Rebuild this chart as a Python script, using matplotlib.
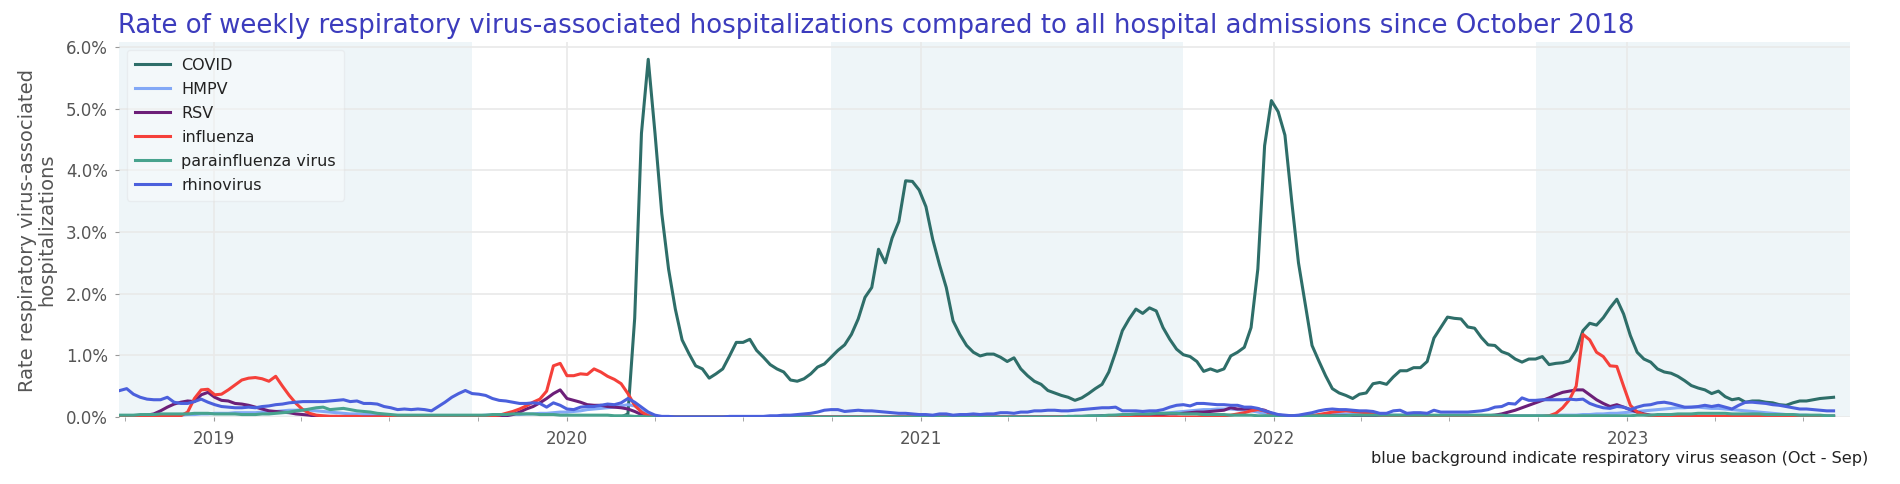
import matplotlib
matplotlib.use("Agg")
import matplotlib.pyplot as plt
import matplotlib.dates as mdates
import pandas as pd

# weekly rates in % of all hospital admissions, one value per week from 2018-09-26
weeks = pd.date_range("2018-09-26", periods=254, freq="7D")
covid_first_week = "2020-02-19"

covid = [
    0.00, 0.00, 0.05, 1.60, 4.60, 5.80, 4.60, 3.30, 2.40, 1.75,
    1.25, 1.03, 0.83, 0.78, 0.63, 0.70, 0.78, 0.99, 1.21, 1.21,
    1.26, 1.08, 0.97, 0.85, 0.78, 0.73, 0.60, 0.58, 0.62, 0.70,
    0.81, 0.86, 0.97, 1.08, 1.17, 1.34, 1.59, 1.94, 2.10, 2.72,
    2.50, 2.90, 3.17, 3.83, 3.82, 3.68, 3.41, 2.88, 2.47, 2.10,
    1.56, 1.34, 1.16, 1.05, 0.99, 1.02, 1.02, 0.97, 0.90, 0.96,
    0.78, 0.67, 0.58, 0.53, 0.43, 0.39, 0.35, 0.32, 0.27, 0.31,
    0.38, 0.46, 0.53, 0.73, 1.05, 1.40, 1.59, 1.75, 1.68, 1.77,
    1.72, 1.45, 1.26, 1.10, 1.01, 0.98, 0.90, 0.74, 0.78, 0.74,
    0.78, 0.99, 1.05, 1.13, 1.45, 2.40, 4.40, 5.13, 4.95, 4.57,
    3.50, 2.50, 1.83, 1.16, 0.91, 0.67, 0.46, 0.39, 0.35, 0.30,
    0.37, 0.39, 0.54, 0.56, 0.53, 0.65, 0.75, 0.75, 0.80, 0.80,
    0.90, 1.28, 1.45, 1.62, 1.60, 1.59, 1.46, 1.44, 1.29, 1.17,
    1.16, 1.06, 1.02, 0.94, 0.89, 0.94, 0.94, 0.98, 0.85, 0.87,
    0.88, 0.91, 1.08, 1.40, 1.52, 1.49, 1.61, 1.77, 1.91, 1.67,
    1.32, 1.05, 0.94, 0.89, 0.78, 0.73, 0.71, 0.66, 0.59, 0.51,
    0.47, 0.44, 0.38, 0.42, 0.33, 0.28, 0.30, 0.24, 0.26, 0.26,
    0.24, 0.23, 0.20, 0.19, 0.23, 0.26, 0.26, 0.28, 0.30, 0.31, 0.32,
]

hmpv = [
    0.01, 0.01, 0.01, 0.01, 0.01, 0.02, 0.02, 0.02, 0.03, 0.03,
    0.04, 0.04, 0.05, 0.05, 0.06, 0.06, 0.06, 0.07, 0.07, 0.07,
    0.07, 0.08, 0.08, 0.09, 0.10, 0.11, 0.11, 0.12, 0.11, 0.10,
    0.09, 0.08, 0.07, 0.06, 0.05, 0.05, 0.04, 0.04, 0.03, 0.03,
    0.02, 0.02, 0.02, 0.02, 0.02, 0.02, 0.02, 0.02, 0.02, 0.02,
    0.02, 0.02, 0.02, 0.02, 0.03, 0.03, 0.03, 0.03, 0.04, 0.04,
    0.05, 0.05, 0.06, 0.06, 0.07, 0.08, 0.08, 0.09, 0.10, 0.12,
    0.13, 0.14, 0.15, 0.16, 0.18, 0.20, 0.18, 0.10, 0.03, 0.01,
    0.00, 0.00, 0.00, 0.00, 0.00, 0.00, 0.00, 0.00, 0.00, 0.00,
    0.00, 0.00, 0.00, 0.00, 0.00, 0.00, 0.00, 0.00, 0.00, 0.00,
    0.00, 0.00, 0.00, 0.00, 0.00, 0.00, 0.00, 0.00, 0.00, 0.00,
    0.00, 0.00, 0.00, 0.00, 0.00, 0.00, 0.00, 0.00, 0.00, 0.00,
    0.00, 0.00, 0.00, 0.00, 0.00, 0.00, 0.00, 0.00, 0.00, 0.00,
    0.00, 0.00, 0.00, 0.00, 0.00, 0.00, 0.00, 0.00, 0.00, 0.00,
    0.01, 0.01, 0.01, 0.01, 0.02, 0.02, 0.02, 0.03, 0.03, 0.03,
    0.04, 0.04, 0.05, 0.05, 0.06, 0.07, 0.08, 0.09, 0.10, 0.11,
    0.12, 0.12, 0.13, 0.13, 0.13, 0.12, 0.11, 0.10, 0.08, 0.06,
    0.04, 0.03, 0.02, 0.02, 0.02, 0.02, 0.03, 0.03, 0.04, 0.04,
    0.05, 0.05, 0.05, 0.05, 0.04, 0.04, 0.04, 0.03, 0.03, 0.03,
    0.03, 0.03, 0.03, 0.03, 0.02, 0.02, 0.02, 0.02, 0.02, 0.02,
    0.02, 0.02, 0.02, 0.02, 0.02, 0.02, 0.02, 0.02, 0.02, 0.02,
    0.02, 0.02, 0.03, 0.03, 0.03, 0.03, 0.04, 0.04, 0.05, 0.05,
    0.06, 0.06, 0.07, 0.08, 0.09, 0.10, 0.11, 0.12, 0.13, 0.14,
    0.15, 0.15, 0.16, 0.16, 0.15, 0.14, 0.14, 0.13, 0.12, 0.11,
    0.10, 0.09, 0.08, 0.07, 0.06, 0.05, 0.04, 0.04, 0.03, 0.03,
    0.02, 0.02, 0.02, 0.02,
]

rsv = [
    0.00, 0.00, 0.01, 0.02, 0.03, 0.05, 0.10, 0.16, 0.21, 0.24,
    0.26, 0.25, 0.36, 0.40, 0.32, 0.27, 0.26, 0.22, 0.21, 0.19,
    0.16, 0.13, 0.10, 0.09, 0.08, 0.07, 0.05, 0.04, 0.03, 0.01,
    0.01, 0.01, 0.01, 0.00, 0.00, 0.00, 0.00, 0.00, 0.00, 0.00,
    0.00, 0.00, 0.00, 0.00, 0.00, 0.00, 0.00, 0.00, 0.00, 0.00,
    0.00, 0.00, 0.00, 0.00, 0.00, 0.01, 0.01, 0.02, 0.04, 0.08,
    0.13, 0.17, 0.23, 0.30, 0.38, 0.44, 0.30, 0.27, 0.24, 0.20,
    0.19, 0.19, 0.17, 0.16, 0.15, 0.13, 0.09, 0.04, 0.01, 0.00,
    0.00, 0.00, 0.00, 0.00, 0.00, 0.00, 0.00, 0.00, 0.00, 0.00,
    0.00, 0.00, 0.00, 0.00, 0.00, 0.00, 0.00, 0.00, 0.00, 0.00,
    0.00, 0.00, 0.00, 0.00, 0.00, 0.00, 0.00, 0.00, 0.00, 0.00,
    0.00, 0.00, 0.00, 0.00, 0.00, 0.00, 0.00, 0.00, 0.00, 0.00,
    0.00, 0.00, 0.00, 0.00, 0.00, 0.00, 0.00, 0.00, 0.00, 0.00,
    0.00, 0.00, 0.00, 0.00, 0.00, 0.00, 0.00, 0.00, 0.00, 0.00,
    0.00, 0.01, 0.01, 0.01, 0.01, 0.02, 0.02, 0.02, 0.02, 0.03,
    0.03, 0.03, 0.03, 0.04, 0.04, 0.05, 0.05, 0.06, 0.07, 0.08,
    0.08, 0.09, 0.10, 0.11, 0.15, 0.13, 0.13, 0.14, 0.13, 0.11,
    0.06, 0.03, 0.02, 0.02, 0.01, 0.01, 0.01, 0.01, 0.02, 0.02,
    0.02, 0.02, 0.02, 0.02, 0.02, 0.02, 0.02, 0.02, 0.02, 0.02,
    0.02, 0.02, 0.01, 0.01, 0.01, 0.01, 0.01, 0.01, 0.01, 0.01,
    0.01, 0.01, 0.02, 0.03, 0.05, 0.08, 0.11, 0.15, 0.19, 0.23,
    0.27, 0.31, 0.36, 0.40, 0.42, 0.44, 0.44, 0.36, 0.28, 0.22,
    0.17, 0.20, 0.16, 0.12, 0.08, 0.05, 0.03, 0.02, 0.01, 0.01,
    0.01, 0.01, 0.01, 0.01, 0.01, 0.01, 0.01, 0.01, 0.01, 0.01,
    0.01, 0.01, 0.01, 0.01, 0.01, 0.01, 0.01, 0.01, 0.01, 0.01,
    0.01, 0.01, 0.01, 0.01,
]

influenza = [
    0.00, 0.00, 0.00, 0.00, 0.00, 0.01, 0.01, 0.01, 0.01, 0.02,
    0.08, 0.30, 0.44, 0.45, 0.36, 0.37, 0.44, 0.52, 0.60, 0.63,
    0.64, 0.62, 0.58, 0.66, 0.50, 0.35, 0.22, 0.12, 0.06, 0.03,
    0.02, 0.01, 0.01, 0.01, 0.01, 0.01, 0.00, 0.00, 0.00, 0.00,
    0.00, 0.00, 0.00, 0.00, 0.00, 0.00, 0.00, 0.00, 0.01, 0.01,
    0.01, 0.01, 0.01, 0.01, 0.01, 0.02, 0.03, 0.06, 0.09, 0.13,
    0.18, 0.24, 0.29, 0.42, 0.83, 0.87, 0.67, 0.67, 0.70, 0.69,
    0.78, 0.73, 0.66, 0.61, 0.54, 0.38, 0.19, 0.08, 0.02, 0.01,
    0.00, 0.00, 0.00, 0.00, 0.00, 0.00, 0.00, 0.00, 0.00, 0.00,
    0.00, 0.00, 0.00, 0.00, 0.00, 0.00, 0.00, 0.00, 0.00, 0.00,
    0.00, 0.00, 0.00, 0.00, 0.00, 0.00, 0.00, 0.00, 0.00, 0.00,
    0.00, 0.00, 0.00, 0.00, 0.00, 0.00, 0.00, 0.00, 0.00, 0.00,
    0.00, 0.00, 0.00, 0.00, 0.00, 0.00, 0.00, 0.00, 0.00, 0.00,
    0.00, 0.00, 0.00, 0.00, 0.00, 0.00, 0.00, 0.00, 0.00, 0.00,
    0.00, 0.00, 0.00, 0.00, 0.00, 0.00, 0.00, 0.00, 0.00, 0.00,
    0.00, 0.00, 0.00, 0.00, 0.00, 0.00, 0.00, 0.00, 0.00, 0.00,
    0.01, 0.01, 0.01, 0.02, 0.03, 0.05, 0.07, 0.10, 0.12, 0.10,
    0.05, 0.02, 0.01, 0.01, 0.01, 0.01, 0.02, 0.04, 0.06, 0.08,
    0.09, 0.10, 0.09, 0.08, 0.07, 0.05, 0.03, 0.02, 0.01, 0.01,
    0.01, 0.01, 0.01, 0.01, 0.01, 0.01, 0.01, 0.01, 0.01, 0.01,
    0.01, 0.01, 0.01, 0.01, 0.01, 0.01, 0.01, 0.01, 0.01, 0.01,
    0.01, 0.02, 0.06, 0.15, 0.28, 0.50, 1.34, 1.25, 1.05, 0.98,
    0.83, 0.82, 0.50, 0.19, 0.08, 0.04, 0.02, 0.01, 0.01, 0.01,
    0.01, 0.01, 0.01, 0.01, 0.01, 0.01, 0.01, 0.01, 0.01, 0.01,
    0.01, 0.01, 0.01, 0.01, 0.01, 0.01, 0.01, 0.01, 0.01, 0.01,
    0.01, 0.01, 0.01, 0.01,
]

parainfluenza = [
    0.03, 0.03, 0.03, 0.04, 0.04, 0.04, 0.05, 0.05, 0.05, 0.05,
    0.05, 0.06, 0.06, 0.06, 0.05, 0.05, 0.05, 0.05, 0.04, 0.04,
    0.04, 0.05, 0.05, 0.06, 0.07, 0.08, 0.10, 0.11, 0.13, 0.15,
    0.16, 0.12, 0.13, 0.14, 0.12, 0.10, 0.09, 0.08, 0.06, 0.05,
    0.04, 0.03, 0.03, 0.03, 0.03, 0.03, 0.03, 0.03, 0.03, 0.03,
    0.03, 0.03, 0.03, 0.03, 0.03, 0.04, 0.04, 0.04, 0.05, 0.05,
    0.05, 0.05, 0.04, 0.04, 0.04, 0.03, 0.03, 0.03, 0.03, 0.03,
    0.03, 0.03, 0.03, 0.02, 0.02, 0.02, 0.01, 0.01, 0.00, 0.00,
    0.00, 0.00, 0.00, 0.00, 0.00, 0.00, 0.00, 0.00, 0.00, 0.00,
    0.00, 0.00, 0.00, 0.00, 0.00, 0.00, 0.00, 0.00, 0.00, 0.00,
    0.00, 0.00, 0.00, 0.00, 0.00, 0.00, 0.00, 0.00, 0.00, 0.00,
    0.00, 0.00, 0.00, 0.00, 0.00, 0.00, 0.00, 0.00, 0.00, 0.00,
    0.00, 0.00, 0.00, 0.00, 0.00, 0.00, 0.00, 0.00, 0.00, 0.00,
    0.00, 0.00, 0.00, 0.00, 0.00, 0.00, 0.00, 0.00, 0.00, 0.00,
    0.01, 0.01, 0.01, 0.02, 0.02, 0.02, 0.03, 0.03, 0.04, 0.04,
    0.05, 0.05, 0.05, 0.06, 0.06, 0.06, 0.06, 0.05, 0.05, 0.05,
    0.04, 0.04, 0.04, 0.04, 0.03, 0.03, 0.03, 0.03, 0.02, 0.02,
    0.02, 0.02, 0.02, 0.02, 0.02, 0.02, 0.02, 0.02, 0.02, 0.02,
    0.02, 0.02, 0.03, 0.03, 0.03, 0.03, 0.03, 0.03, 0.03, 0.03,
    0.03, 0.03, 0.03, 0.03, 0.03, 0.03, 0.03, 0.03, 0.03, 0.03,
    0.03, 0.03, 0.03, 0.03, 0.03, 0.02, 0.02, 0.02, 0.02, 0.02,
    0.02, 0.02, 0.02, 0.02, 0.02, 0.02, 0.02, 0.02, 0.02, 0.02,
    0.02, 0.02, 0.02, 0.02, 0.03, 0.03, 0.03, 0.04, 0.04, 0.04,
    0.05, 0.05, 0.05, 0.06, 0.06, 0.06, 0.06, 0.06, 0.05, 0.05,
    0.05, 0.05, 0.05, 0.04, 0.04, 0.04, 0.04, 0.04, 0.03, 0.03,
    0.03, 0.03, 0.02, 0.02,
]

rhinovirus = [
    0.43, 0.46, 0.37, 0.32, 0.29, 0.28, 0.28, 0.32, 0.24, 0.22,
    0.22, 0.25, 0.29, 0.24, 0.20, 0.17, 0.16, 0.15, 0.15, 0.16,
    0.15, 0.17, 0.18, 0.20, 0.21, 0.23, 0.24, 0.25, 0.25, 0.25,
    0.25, 0.26, 0.27, 0.28, 0.25, 0.26, 0.22, 0.22, 0.21, 0.17,
    0.15, 0.12, 0.13, 0.12, 0.13, 0.12, 0.10, 0.17, 0.24, 0.32,
    0.38, 0.43, 0.38, 0.37, 0.35, 0.30, 0.27, 0.26, 0.24, 0.22,
    0.22, 0.23, 0.22, 0.16, 0.23, 0.19, 0.13, 0.12, 0.16, 0.17,
    0.17, 0.19, 0.21, 0.20, 0.23, 0.30, 0.24, 0.16, 0.08, 0.03,
    0.01, 0.01, 0.00, 0.00, 0.00, 0.00, 0.00, 0.00, 0.00, 0.00,
    0.01, 0.01, 0.01, 0.01, 0.01, 0.01, 0.02, 0.02, 0.03, 0.03,
    0.04, 0.05, 0.06, 0.08, 0.11, 0.12, 0.12, 0.09, 0.10, 0.11,
    0.10, 0.10, 0.09, 0.08, 0.07, 0.06, 0.06, 0.05, 0.04, 0.04,
    0.03, 0.05, 0.05, 0.03, 0.04, 0.04, 0.05, 0.04, 0.05, 0.05,
    0.07, 0.07, 0.06, 0.08, 0.08, 0.10, 0.10, 0.11, 0.11, 0.10,
    0.10, 0.11, 0.12, 0.13, 0.14, 0.15, 0.15, 0.16, 0.10, 0.10,
    0.10, 0.09, 0.10, 0.10, 0.12, 0.16, 0.19, 0.20, 0.18, 0.22,
    0.22, 0.21, 0.20, 0.20, 0.19, 0.19, 0.16, 0.16, 0.14, 0.10,
    0.07, 0.04, 0.03, 0.02, 0.03, 0.05, 0.07, 0.10, 0.12, 0.13,
    0.12, 0.12, 0.11, 0.10, 0.10, 0.09, 0.06, 0.06, 0.10, 0.11,
    0.06, 0.07, 0.07, 0.06, 0.11, 0.08, 0.08, 0.08, 0.08, 0.08,
    0.09, 0.10, 0.12, 0.16, 0.17, 0.22, 0.21, 0.31, 0.27, 0.27,
    0.28, 0.28, 0.28, 0.28, 0.29, 0.28, 0.29, 0.22, 0.18, 0.15,
    0.14, 0.17, 0.16, 0.12, 0.16, 0.19, 0.20, 0.23, 0.24, 0.22,
    0.19, 0.16, 0.16, 0.17, 0.19, 0.17, 0.19, 0.16, 0.13, 0.19,
    0.24, 0.24, 0.23, 0.22, 0.20, 0.19, 0.17, 0.15, 0.13, 0.13,
    0.12, 0.11, 0.10, 0.10,
]

series = [
    ("COVID", covid, "#2e6e69"),
    ("HMPV", hmpv, "#82a8f6"),
    ("RSV", rsv, "#6c1f78"),
    ("influenza", influenza, "#f5403a"),
    ("parainfluenza virus", parainfluenza, "#47a38e"),
    ("rhinovirus", rhinovirus, "#4b60dc"),
]

# respiratory virus seasons (shaded)
season_starts = ["2018-09-25", "2020-09-30", "2022-09-28"]
season_ends = ["2019-09-25", "2021-09-29", "2023-09-27"]

fig = plt.figure(figsize=(19, 4.84), dpi=100)
ax = fig.add_axes([0.0626, 0.1384, 0.9111, 0.7748])

for s, e in zip(season_starts, season_ends):
    ax.axvspan(pd.Timestamp(s), pd.Timestamp(e), color="#eef5f8", lw=0, zorder=0)

covid_weeks = weeks[weeks >= pd.Timestamp(covid_first_week)]
for name, vals, col in series:
    x = covid_weeks if name == "COVID" else weeks
    ax.plot(x, vals, color=col, lw=2.2, label=name, zorder=3)

ax.set_xlim(pd.Timestamp("2018-09-25"), pd.Timestamp("2023-08-19"))
ax.set_ylim(0, 6.08)
ax.set_yticks([0, 1, 2, 3, 4, 5, 6])
ax.yaxis.set_major_formatter(plt.FuncFormatter(lambda v, p: f"{v:.1f}%"))

ax.xaxis.set_major_locator(mdates.YearLocator())
ax.xaxis.set_major_formatter(mdates.DateFormatter("%Y"))
ax.xaxis.set_minor_locator(mdates.MonthLocator(bymonth=[4, 7, 10]))

ax.set_axisbelow(True)
ax.grid(axis="y", color="#e9e9e9", lw=1.2)
ax.grid(axis="x", which="major", color="#e9e9e9", lw=1.2)
for sp in ax.spines.values():
    sp.set_visible(False)

ax.tick_params(axis="x", which="both", length=3, color="#999999",
               labelsize=12, labelcolor="#555555", pad=6)
ax.tick_params(axis="y", length=3, color="#999999",
               labelsize=12, labelcolor="#555555", pad=5)

leg = ax.legend(loc="upper left", fontsize=11.5, frameon=True, framealpha=0.3,
                edgecolor="#d8d8d8", handlelength=2.2, handletextpad=0.7,
                labelspacing=0.56, borderpad=0.5)
for t in leg.get_texts():
    t.set_color("#222222")

fig.text(118 / 1900, 1 - 33 / 484,
         "Rate of weekly respiratory virus-associated hospitalizations compared to all hospital admissions since October 2018",
         fontsize=18.7, color="#3c3cbd", ha="left", va="baseline")
fig.text(37 / 1900, 1 - 230 / 484,
         "Rate respiratory virus-associated\nhospitalizations",
         rotation=90, ha="center", va="center", multialignment="center",
         fontsize=14, color="#555555", linespacing=1.05)
fig.text(1868 / 1900, 1 - 459 / 484,
         "blue background indicate respiratory virus season (Oct - Sep)",
         ha="right", va="center", fontsize=11.6, color="#222222")

fig.savefig("out.png", dpi=100)
